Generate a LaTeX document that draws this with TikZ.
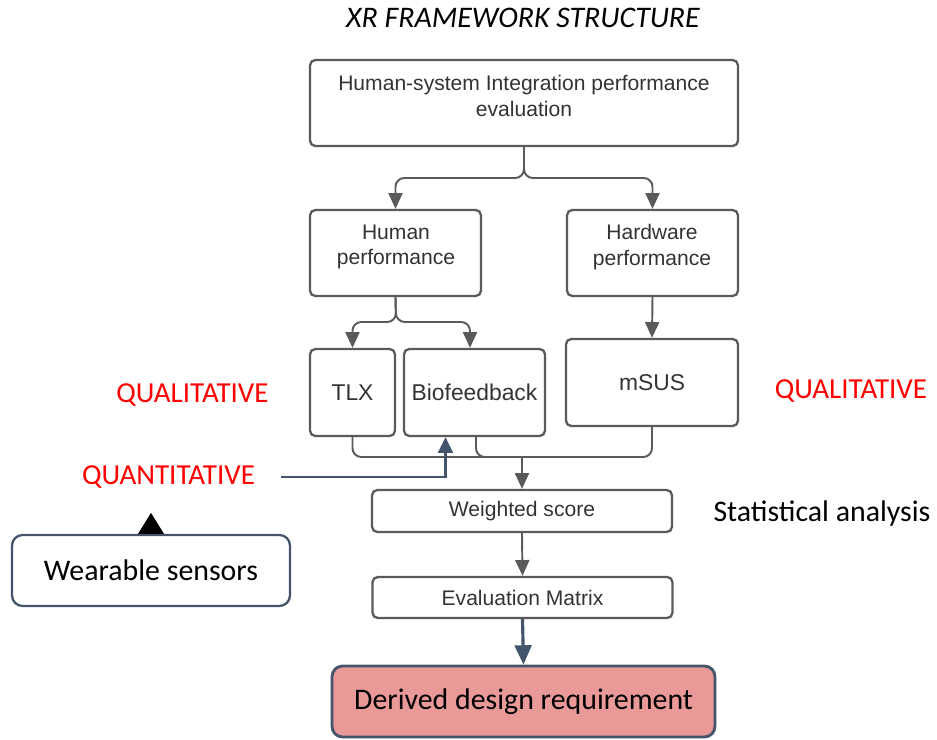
\documentclass[tikz,border=0pt]{standalone}
\usepackage{fontspec}
\setmainfont{Carlito}
\newfontfamily\boxfont{Liberation Sans}
\usetikzlibrary{arrows.meta}
\definecolor{boxgray}{HTML}{5A5A5A}
\definecolor{txtgray}{HTML}{333333}
\definecolor{slate}{HTML}{44546A}
\definecolor{rosefill}{HTML}{EA9999}

\begin{document}
\begin{tikzpicture}[x=0.02cm,y=-0.02cm,
  box/.style={draw=boxgray,line width=1.3pt,rounded corners=3pt,inner sep=0pt},
  boxtxt/.style={text=txtgray,align=center,font=\boxfont\fontsize{12}{14.7}\selectfont},
  bigtxt/.style={text=txtgray,font=\boxfont\fontsize{13}{15}\selectfont},
  conn/.style={draw=boxgray,line width=1.1pt,rounded corners=5pt},
  arrowhead/.style={-{Triangle[width=8pt,length=9pt]}},
  redlabel/.style={text=red,font=\fontsize{16.5}{19}\selectfont}]
\useasboundingbox (0,0) rectangle (937,740);

\node[font=\itshape\fontsize{17}{20}\selectfont] (title) at (523,18) {XR FRAMEWORK STRUCTURE};

% top level
\node[box,minimum width=8.56cm,minimum height=1.72cm] (top) at (524,103) {};
\node[boxtxt] (top-t) at (524,96) {Human-system Integration performance\\evaluation};

\node[box,minimum width=3.42cm,minimum height=1.72cm] (hum) at (395.5,253) {};
\node[boxtxt] (hum-t) at (396,247) {Human\\performance};
\node[box,minimum width=3.42cm,minimum height=1.72cm] (hw) at (652.5,253) {};
\node[boxtxt] (hw-t) at (652,247) {Hardware\\performance};

% measures
\node[box,bigtxt,minimum width=1.70cm,minimum height=1.74cm] (tlx) at (352.5,392.5) {TLX};
\node[box,bigtxt,minimum width=2.82cm,minimum height=1.74cm] (bio) at (474.5,392.5) {Biofeedback};
\node[box,bigtxt,minimum width=3.44cm,minimum height=1.74cm] (msus) at (652,382.5) {mSUS};

\node[box,boxtxt,minimum width=6cm,minimum height=0.84cm] (score) at (522,511) {Weighted score};
\node[box,boxtxt,minimum width=6cm,minimum height=0.82cm] (matrix) at (522.5,597.5) {Evaluation Matrix};

\node[draw=slate,line width=1.6pt,fill=rosefill,rounded corners=6pt,minimum width=7.66cm,minimum height=1.42cm,
  font=\fontsize{17}{20}\selectfont] (ddr) at (523.5,701.5) {Derived design requirement};
\node[draw=slate,line width=1.3pt,rounded corners=6pt,minimum width=5.56cm,minimum height=1.42cm,
  font=\fontsize{17}{20}\selectfont] (sensors) at (151,570.5) {Wearable sensors};

% side labels
\node[redlabel] (qual-l) at (192.5,395) {QUALITATIVE};
\node[redlabel] (qual-r) at (851,391) {QUALITATIVE};
\node[redlabel] (quant) at (168.5,477) {QUANTITATIVE};
\node[font=\fontsize{17}{20}\selectfont] (stat) at (822,514) {Statistical analysis};

% connectors
\coordinate (split1) at (524,178);
\coordinate (split2) at (396,322);
\coordinate (merge) at (522,457);

\draw[conn,arrowhead] (top.south) -- (split1) -| (hum.north);
\draw[conn,arrowhead] (top.south) -- (split1) -| (hw.north);
\draw[conn,arrowhead] (hum.south) -- (split2) -| (tlx.north);
\draw[conn,arrowhead] (hum.south) -- (split2) -| ([xshift=-0.09cm]bio.north);
\draw[conn,arrowhead] (hw.south) -- (msus.north);

\draw[conn] (tlx.south) |- (merge);
\draw[conn] ([xshift=0.03cm]bio.south) |- (merge);
\draw[conn] (msus.south) |- (merge);
\draw[conn,arrowhead] (merge) -- (score.north);
\draw[conn,arrowhead] (score.south) -- (matrix.north);

\draw[slate,line width=1.8pt,-{Triangle[width=9.5pt,length=11pt]}] (matrix.south) -- (ddr.north);
\draw[slate,line width=1.4pt,-{Triangle[width=8.5pt,length=9pt]}] ([xshift=0.4cm]quant.east) -| ([xshift=-0.58cm]bio.south);

\fill (sensors.north) ++(-13,0) -- ++(13,-21) -- ++(13,21) -- cycle;

\end{tikzpicture}
\end{document}
